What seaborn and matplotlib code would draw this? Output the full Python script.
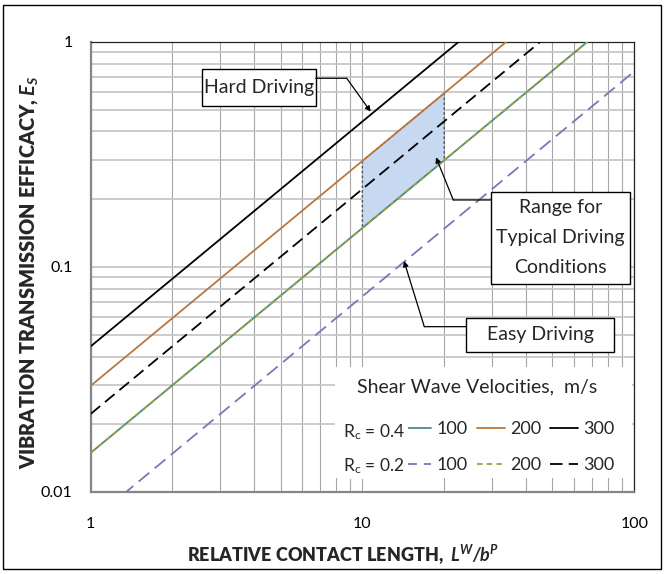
import numpy as np
import pandas as pd
import matplotlib
matplotlib.use("Agg")
import matplotlib.pyplot as plt
import seaborn as sns
from matplotlib.patches import Rectangle
from matplotlib.ticker import FixedLocator, NullFormatter, FixedFormatter

# ---------------- data ----------------
x_rel = [1, 100]                       # relative contact length L^W/b^P
e_rc04_v100 = [0.0149, 1.49]
e_rc04_v200 = [0.0296, 2.96]
e_rc04_v300 = [0.0443, 4.43]
e_rc02_v100 = [0.0074, 0.74]
e_rc02_v200 = [0.0149, 1.49]
e_rc02_v300 = [0.0222, 2.22]

range_x = [10, 20]                     # typical driving range
range_lo = [0.149, 0.298]
range_hi = [0.296, 0.592]

x_ticks = [1, 10, 100]
x_tick_labels = ["1", "10", "100"]
y_ticks = [0.01, 0.1, 1]
y_tick_labels = ["0.01", "0.1", "1"]
velocity_labels = ["100", "200", "300"]
rc_labels = ["R$_{\\mathregular{c}}$ = 0.4", "R$_{\\mathregular{c}}$ = 0.2"]

# ---------------- style ----------------
sns.set_theme(style="white")
plt.rcParams["font.family"] = ["Lato", "DejaVu Sans"]
plt.rcParams["mathtext.fontset"] = "custom"
plt.rcParams["mathtext.rm"] = "Lato"
plt.rcParams["mathtext.it"] = "Lato:italic"
plt.rcParams["mathtext.bf"] = "Lato:bold"
plt.rcParams["mathtext.bfit"] = "Lato:bold:italic"
plt.rcParams["lines.scale_dashes"] = False

fig = plt.figure(figsize=(6.65, 5.74), dpi=100)
ax = fig.add_axes([0.1361, 0.1429, 0.8177, 0.7840])

def P(px, py):
    """pixel position in the figure -> axes fraction"""
    return ((px - 90.5) / 543.8, (492 - py) / 450.0)

lw = 1.3
series = [
    (e_rc04_v100, "#4a8a8f", "-"),
    (e_rc04_v200, "#b8773f", "-"),
    (e_rc04_v300, "black", "-"),
    (e_rc02_v100, "#7878b8", (0, (10, 5))),
    (e_rc02_v200, "#9da23a", (0, (4, 3))),
    (e_rc02_v300, "black", (0, (9, 4.5))),
]
handles = []
for yv, col, ls in series:
    df = pd.DataFrame({"x": x_rel, "y": yv})
    sns.lineplot(data=df, x="x", y="y", ax=ax, color=col, linestyle=ls,
                 linewidth=lw, zorder=3, legend=False)
    handles.append(ax.lines[-1])

# typical range shading
ax.fill_between(range_x, range_lo, range_hi, facecolor="#c6d9f1",
                edgecolor="#555555", linestyle=(0, (2, 1.5)), linewidth=1.0,
                zorder=2)

ax.set_xscale("log")
ax.set_yscale("log")
ax.set_xlim(1, 100)
ax.set_ylim(0.01, 1)

# ticks and grid
ax.xaxis.set_major_locator(FixedLocator(x_ticks))
ax.xaxis.set_major_formatter(FixedFormatter(x_tick_labels))
ax.yaxis.set_major_locator(FixedLocator(y_ticks))
ax.yaxis.set_major_formatter(FixedFormatter(y_tick_labels))
minor = [m * 10 ** d for d in range(-2, 2) for m in range(2, 10)]
ax.xaxis.set_minor_locator(FixedLocator([v for v in minor if 1 < v < 100]))
ax.yaxis.set_minor_locator(FixedLocator([v for v in minor if 0.01 < v < 1]))
ax.xaxis.set_minor_formatter(NullFormatter())
ax.yaxis.set_minor_formatter(NullFormatter())
ax.tick_params(which="major", direction="out", length=6, width=1.2,
               color="#868686", labelsize=11.5, labelcolor="black")
ax.tick_params(axis="x", which="major", pad=12)
ax.tick_params(axis="y", which="major", pad=7)
ax.tick_params(which="minor", length=0)
ax.set_axisbelow(True)
ax.grid(axis="x", which="both", color="#a6a6a6", linewidth=0.8)
ax.grid(axis="y", which="both", color="#c4c4c4", linewidth=1.2)

for s in ["left", "bottom"]:
    ax.spines[s].set_color("#868686")
    ax.spines[s].set_linewidth(1.6)
for s in ["top", "right"]:
    ax.spines[s].set_color("#222222")
    ax.spines[s].set_linewidth(0.9)

# axis labels
ax.set_xlabel("RELATIVE CONTACT LENGTH,  $\\mathbfit{L^{W}/b^{P}}$",
              fontsize=13, fontweight="heavy")
ax.set_ylabel("VIBRATION TRANSMISSION EFFICACY, $\\mathbfit{E}_{\\mathbfit{S}}$",
              fontsize=14.3, fontweight="heavy")
ax.xaxis.set_label_coords(P(343, 0)[0], P(0, 543)[1])
ax.yaxis.set_label_coords(P(40, 0)[0], P(0, 272)[1])

# legend background + title + row labels
ax.add_patch(Rectangle(P(335, 478), 297 / 543.8, 111 / 450.0,
                       transform=ax.transAxes, facecolor="white",
                       edgecolor="none", zorder=1.5))
ax.text(*P(477.5, 386.7), "Shear Wave Velocities,  m/s", transform=ax.transAxes,
        ha="center", va="center", fontsize=14, zorder=5)
for lab, yy in zip(rc_labels, [431.7, 466]):
    ax.text(*P(405, yy), lab, transform=ax.transAxes, ha="right",
            va="center", fontsize=12.5, zorder=6,
            bbox=dict(facecolor="white", edgecolor="none", pad=2.5))
leg_handles = [handles[0], handles[3], handles[1], handles[4],
               handles[2], handles[5]]
leg_labels = [velocity_labels[0], velocity_labels[0],
              velocity_labels[1], velocity_labels[1],
              velocity_labels[2], velocity_labels[2]]
ax.legend(leg_handles, leg_labels, ncol=3, loc="upper left",
          bbox_to_anchor=P(403, 421), frameon=False, fontsize=13,
          handlelength=1.55, handletextpad=0.3, columnspacing=0.5,
          labelspacing=1.12, borderpad=0, borderaxespad=0)

# annotation boxes
def box(px0, py0, px1, py1, lines, fs=14, gap=30):
    x0, y1 = P(px0, py1)
    w = (px1 - px0) / 543.8
    h = (py1 - py0) / 450.0
    ax.add_patch(Rectangle((x0, y1), w, h, transform=ax.transAxes,
                           facecolor="white", edgecolor="black", lw=1.0,
                           zorder=6))
    cx = (px0 + px1) / 2
    cy = (py0 + py1) / 2
    n = len(lines)
    for i, t in enumerate(lines):
        yy = cy + (i - (n - 1) / 2) * gap
        ax.text(*P(cx, yy), t, transform=ax.transAxes, ha="center",
                va="center", fontsize=fs, zorder=7)

def connector(start, corner, target):
    ax.annotate("", xy=P(*corner), xytext=P(*start), xycoords="axes fraction",
                textcoords="axes fraction",
                arrowprops=dict(arrowstyle="-", lw=0.9, color="black",
                                shrinkA=0, shrinkB=0), zorder=6)
    ax.annotate("", xy=P(*target), xytext=P(*corner), xycoords="axes fraction",
                textcoords="axes fraction",
                arrowprops=dict(arrowstyle="-|>", lw=0.9, color="black",
                                mutation_scale=8, shrinkA=0, shrinkB=0),
                zorder=6)

box(201.7, 69.3, 315.7, 105.7, ["Hard Driving"])
connector((315.7, 78.3), (346.7, 78.3), (370.7, 111.7))

box(491, 191.7, 630, 284, ["Range for", "Typical Driving", "Conditions"])
connector((491, 200), (453.3, 200), (436, 157.3))

box(466, 318, 614, 352, ["Easy Driving"])
connector((466, 326.7), (424.3, 326.7), (404, 261))

# outer chart border
fig.add_artist(Rectangle((3 / 665, 1 - 569 / 574), 658 / 665, 564 / 574,
                         transform=fig.transFigure, fill=False,
                         edgecolor="black", lw=1.0))

fig.savefig("out.png", dpi=100)
